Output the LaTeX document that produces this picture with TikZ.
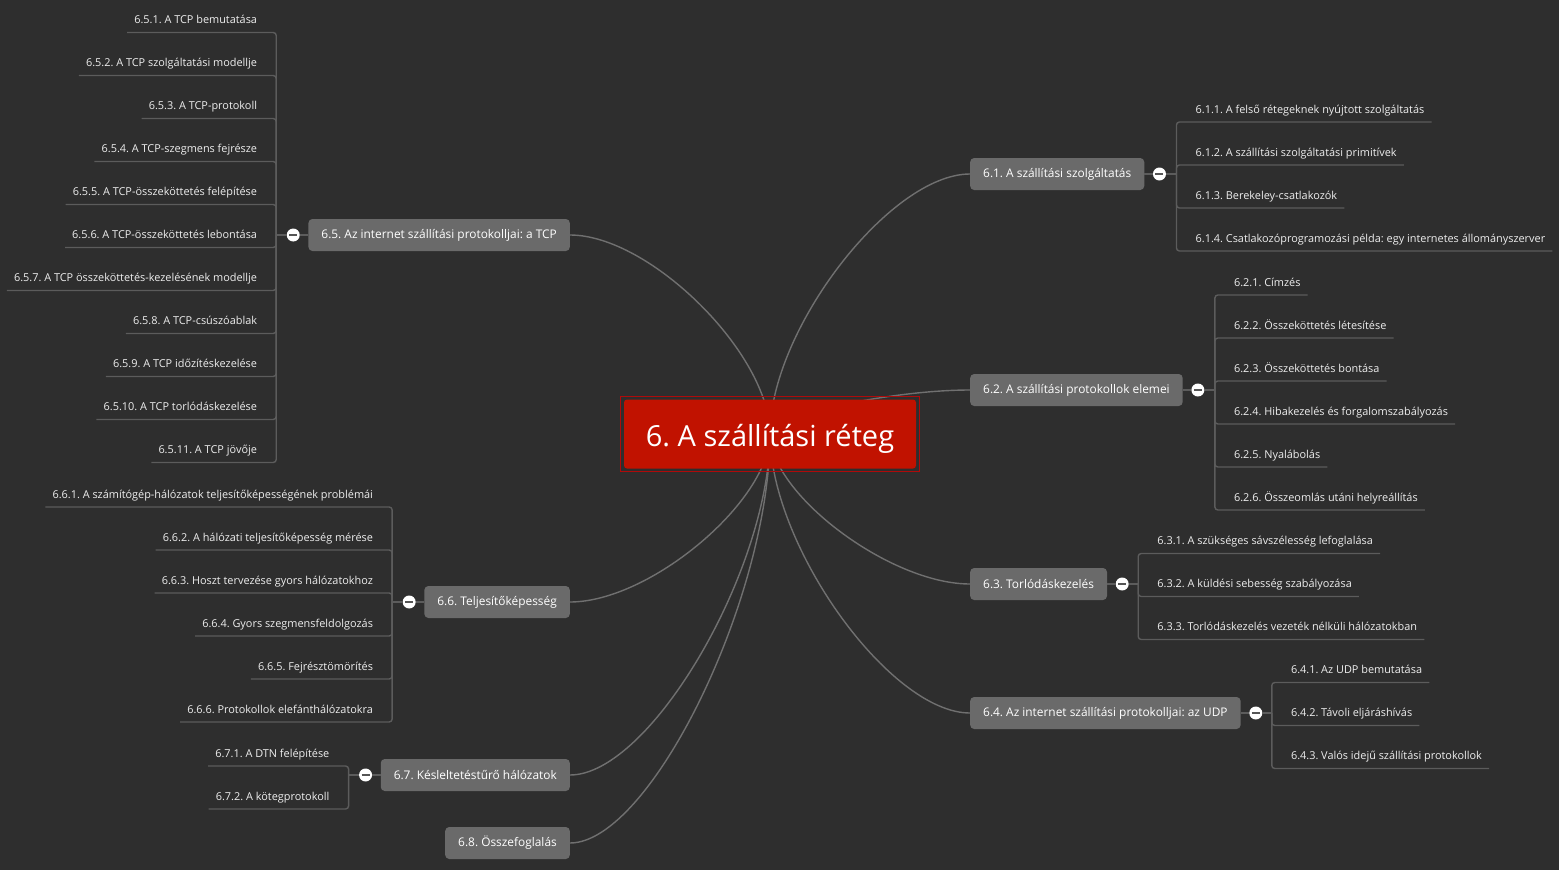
\documentclass[tikz,border=0pt]{standalone}
\usepackage{fontspec}
\setmainfont{Open Sans}
\usetikzlibrary{calc,backgrounds}
\frenchspacing

\definecolor{bgdark}{HTML}{2E2E2E}
\definecolor{topicred}{HTML}{C11200}
\definecolor{framered}{HTML}{B00A0A}
\definecolor{boxgray}{HTML}{6A6A6A}
\definecolor{linegray}{HTML}{707070}
\definecolor{twiggray}{HTML}{5C5C5C}
\definecolor{knobbar}{HTML}{555555}
\definecolor{txtlight}{HTML}{EEEEEE}

\begin{document}
\begin{tikzpicture}[
    x=1pt, y=-1pt,
    root/.style={fill=topicred, text=white, rounded corners=3pt, minimum width=292pt, minimum height=69pt,
        text height=25pt, text depth=1pt, font=\fontsize{29}{34}\selectfont},
    branch/.style={fill=boxgray, text=white, rounded corners=4pt, minimum height=32pt, inner xsep=13pt, inner ysep=0pt, font=\fontsize{11.9}{14}\selectfont},
    leaf/.style={text=txtlight, inner xsep=7pt, inner ysep=0pt, text height=8pt, text depth=8.5pt, font=\fontsize{10.9}{13}\selectfont},
    knob/.style={circle, fill=white, minimum size=13pt, inner sep=0pt,
        path picture={\draw[knobbar, line width=2.2pt] ([xshift=-4pt]path picture bounding box.center) -- ([xshift=4pt]path picture bounding box.center);}},
    curve/.style={linegray, line width=1.4pt},
    twig/.style={twiggray, line width=1.4pt, rounded corners=3pt}
]
\useasboundingbox (0,0) rectangle (1559,870);

% Központi téma
\node[root] (C) at (770,434) {6. A szállítási réteg};
\draw[framered, line width=1pt] ([shift={(-3,-3)}]C.north west) rectangle ([shift={(3,3)}]C.south east);

% Fejezetek (jobb oldal)
\node[branch, anchor=west] (b61) at (970,174) {6.1. A szállítási szolgáltatás};
\node[branch, anchor=west] (b62) at (970,390) {6.2. A szállítási protokollok elemei};
\node[branch, anchor=west] (b63) at (970,584) {6.3. Torlódáskezelés};
\node[branch, anchor=west] (b64) at (970,713) {6.4. Az internet szállítási protokolljai: az UDP};

% Fejezetek (bal oldal)
\node[branch, anchor=east] (b65) at (570,235) {6.5. Az internet szállítási protokolljai: a TCP};
\node[branch, anchor=east] (b66) at (570,602) {6.6. Teljesítőképesség};
\node[branch, anchor=east] (b67) at (570,775) {6.7. Késleltetéstűrő hálózatok};
\node[branch, anchor=east] (b68) at (570,843) {6.8. Összefoglalás};

% Összecsukó gombok
\node[knob] (k61) at ($(b61.east)+(15,0)$) {};
\node[knob] (k62) at ($(b62.east)+(15,0)$) {};
\node[knob] (k63) at ($(b63.east)+(15,0)$) {};
\node[knob] (k64) at ($(b64.east)+(15,0)$) {};
\node[knob] (k65) at ($(b65.west)+(-15,0)$) {};
\node[knob] (k66) at ($(b66.west)+(-15,0)$) {};
\node[knob] (k67) at ($(b67.west)+(-15,0)$) {};

% Elágazási pontok
\coordinate (j61) at ($(k61)+(17,0)$);
\coordinate (j62) at ($(k62)+(17,0)$);
\coordinate (j63) at ($(k63)+(16,0)$);
\coordinate (j64) at ($(k64)+(16,0)$);
\coordinate (j65) at ($(k65)+(-17,0)$);
\coordinate (j66) at ($(k66)+(-17,0)$);
\coordinate (j67) at ($(k67)+(-17,0)$);

\foreach \bb in {61,62,63,64} {
    \draw[twig] (b\bb.east) -- (k\bb.west);
    \draw[twig] (k\bb.east) -- (j\bb);
}
\foreach \bb in {65,66,67} {
    \draw[twig] (b\bb.west) -- (k\bb.east);
    \draw[twig] (k\bb.west) -- (j\bb);
}

% Alfejezetek 6.1
\foreach \lbl [count=\i] in {6.1.1. A felső rétegeknek nyújtott szolgáltatás,
    6.1.2. A szállítási szolgáltatási primitívek,
    6.1.3. Berekeley-csatlakozók,
    6.1.4. Csatlakozóprogramozási példa: egy internetes állományszerver} {
    \node[leaf, anchor=south west] (l61-\i) at ($(j61)+(12,{(\i-2.5)*43+12.5})$) {\lbl};
    \draw[twig] (j61) |- (l61-\i.south east);
}

% Alfejezetek 6.2
\foreach \lbl [count=\i] in {6.2.1. Címzés,
    6.2.2. Összeköttetés létesítése,
    6.2.3. Összeköttetés bontása,
    6.2.4. Hibakezelés és forgalomszabályozás,
    6.2.5. Nyalábolás,
    6.2.6. Összeomlás utáni helyreállítás} {
    \node[leaf, anchor=south west] (l62-\i) at ($(j62)+(12,{(\i-3.5)*43+12.5})$) {\lbl};
    \draw[twig] (j62) |- (l62-\i.south east);
}

% Alfejezetek 6.3
\foreach \lbl [count=\i] in {6.3.1. A szükséges sávszélesség lefoglalása,
    6.3.2. A küldési sebesség szabályozása,
    6.3.3. Torlódáskezelés vezeték nélküli hálózatokban} {
    \node[leaf, anchor=south west] (l63-\i) at ($(j63)+(12,{(\i-2)*43+12.5})$) {\lbl};
    \draw[twig] (j63) |- (l63-\i.south east);
}

% Alfejezetek 6.4
\foreach \lbl [count=\i] in {6.4.1. Az UDP bemutatása,
    6.4.2. Távoli eljáráshívás,
    6.4.3. Valós idejű szállítási protokollok} {
    \node[leaf, anchor=south west] (l64-\i) at ($(j64)+(12,{(\i-2)*43+12.5})$) {\lbl};
    \draw[twig] (j64) |- (l64-\i.south east);
}

% Alfejezetek 6.5
\foreach \lbl [count=\i] in {6.5.1. A TCP bemutatása,
    6.5.2. A TCP szolgáltatási modellje,
    6.5.3. A TCP-protokoll,
    6.5.4. A TCP-szegmens fejrésze,
    6.5.5. A TCP-összeköttetés felépítése,
    6.5.6. A TCP-összeköttetés lebontása,
    6.5.7. A TCP összeköttetés-kezelésének modellje,
    6.5.8. A TCP-csúszóablak,
    6.5.9. A TCP időzítéskezelése,
    6.5.10. A TCP torlódáskezelése,
    6.5.11. A TCP jövője} {
    \node[leaf, anchor=south east] (l65-\i) at ($(j65)+(-12,{(\i-6)*43+12.5})$) {\lbl};
    \draw[twig] (j65) |- (l65-\i.south west);
}

% Alfejezetek 6.6
\foreach \lbl [count=\i] in {6.6.1. A számítógép-hálózatok teljesítőképességének problémái,
    6.6.2. A hálózati teljesítőképesség mérése,
    6.6.3. Hoszt tervezése gyors hálózatokhoz,
    6.6.4. Gyors szegmensfeldolgozás,
    6.6.5. Fejrésztömörítés,
    6.6.6. Protokollok elefánthálózatokra} {
    \node[leaf, anchor=south east] (l66-\i) at ($(j66)+(-12,{(\i-3.5)*43+12.5})$) {\lbl};
    \draw[twig] (j66) |- (l66-\i.south west);
}

% Alfejezetek 6.7
\foreach \lbl [count=\i] in {6.7.1. A DTN felépítése,
    6.7.2. A kötegprotokoll} {
    \node[leaf, anchor=south east] (l67-\i) at ($(j67)+(-12,{(\i-1.5)*43+12.5})$) {\lbl};
    \draw[twig] (j67) |- (l67-\i.south west);
}

% Háttér és görbék a központi téma mögött
\begin{scope}[on background layer]
\fill[bgdark] (0,0) rectangle (1559,870);
\draw[curve] (C.center) .. controls +(0,-104) and +(-80,0) .. (b61.west);
\draw[curve] (C.center) .. controls +(0,-18) and +(-80,0) .. (b62.west);
\draw[curve] (C.center) .. controls +(0,60) and +(-80,0) .. (b63.west);
\draw[curve] (C.center) .. controls +(0,112) and +(-80,0) .. (b64.west);
\draw[curve] (C.center) .. controls +(0,-80) and +(80,0) .. (b65.east);
\draw[curve] (C.center) .. controls +(0,67) and +(80,0) .. (b66.east);
\draw[curve] (C.center) .. controls +(0,136) and +(80,0) .. (b67.east);
\draw[curve] (C.center) .. controls +(0,164) and +(80,0) .. (b68.east);
\end{scope}

\end{tikzpicture}
\end{document}
